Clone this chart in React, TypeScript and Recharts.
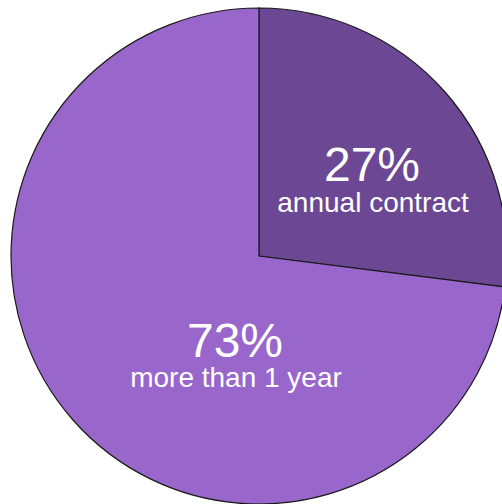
import React from 'react';
import { PieChart, Pie, Cell } from 'recharts';

const categories = ['annual contract', 'more than 1 year'];
const shares = [27, 73];
const percentLabels = ['27%', '73%'];

const colors = ['#6b4794', '#9966cc'];
// label offsets from the pie centre (px): [percent dx, percent dy, text dx, text dy]
const labelOffsets = [
  [113, -75, 114, -44],
  [-24, 101, -23, 131],
];

const data = categories.map((name, i) => ({ name, value: shares[i] }));

const FONT = '"Liberation Sans", Arial, Helvetica, sans-serif';

const renderLabel = (props: any) => {
  const { cx, cy, index } = props;
  const [pdx, pdy, tdx, tdy] = labelOffsets[index];
  return (
    <g>
      <text x={cx + pdx} y={cy + pdy} textAnchor="middle" fill="#fff" fontSize={48} fontFamily={FONT}>
        {percentLabels[index]}
      </text>
      <text x={cx + tdx} y={cy + tdy} textAnchor="middle" fill="#fff" fontSize={28} fontFamily={FONT}>
        {categories[index]}
      </text>
    </g>
  );
};

export default function App() {
  // fixed so the overflowing pie does not create scrollbars
  return (
    <div style={{ position: 'fixed', top: 0, left: 0, width: 502, height: 504, background: '#fff' }}>
      <PieChart width={502} height={504} margin={{ top: 0, right: 0, bottom: 0, left: 0 }}>
        <Pie
          data={data}
          dataKey="value"
          nameKey="name"
          cx={259}
          cy={256}
          outerRadius={248}
          startAngle={90}
          endAngle={-270}
          stroke="#1a1a1a"
          strokeWidth={1.2}
          label={renderLabel}
          labelLine={false}
          isAnimationActive={false}
        >
          {data.map((d, i) => (
            <Cell key={d.name} fill={colors[i]} />
          ))}
        </Pie>
      </PieChart>
    </div>
  );
}
